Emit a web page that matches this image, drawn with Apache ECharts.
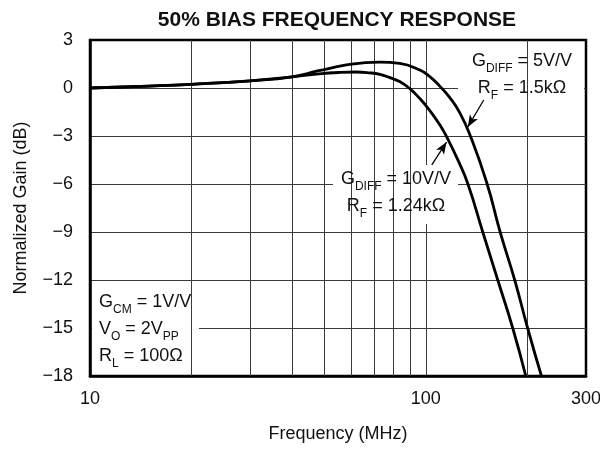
<!DOCTYPE html>
<html>
<head>
<meta charset="utf-8">
<script src="https://cdn.jsdelivr.net/npm/echarts@6/dist/echarts.min.js"></script>
<style>
  html, body { margin: 0; padding: 0; background: #fff; }
  #chart { width: 600px; height: 449px; }
</style>
</head>
<body>
<div id="chart"></div>
<script>
// Frequency (MHz) and normalized gain (dB) for the two differential gain settings
const freqG5 = [10, 15, 20, 30, 40, 48, 58, 66, 73, 83.6, 96, 102.8, 110.2, 117.9, 126.3, 135.2, 152, 166.5, 184, 201, 221];
const gainG5 = [0, 0.12, 0.23, 0.45, 0.7, 1.08, 1.44, 1.58, 1.62, 1.54, 1.12, 0.71, 0.1, -0.6, -1.55, -2.9, -5.94, -9, -12, -15, -18];

const freqG10 = [10, 15, 20, 30, 40, 48, 55, 62, 68, 73, 78.1, 83.6, 89.6, 96, 102.8, 110.2, 116.3, 124.5, 133.4, 147.8, 163.8, 181.5, 198.5];
const gainG10 = [0, 0.12, 0.23, 0.45, 0.7, 0.88, 0.97, 1.0, 0.95, 0.85, 0.65, 0.4, -0.04, -0.66, -1.41, -2.32, -3.19, -4.48, -5.98, -9, -12, -15, -18];

// Intermediate decade grid lines on the log frequency axis
const minorFreqs = [20, 30, 40, 50, 60, 70, 80, 90, 200];

// Gain axis range and step
const gainMin = -18;
const gainMax = 3;
const gainStep = 3;

// Pointer arrows: [tail, head] in (MHz, dB)
const arrowG5 = [[148.8, -0.75], [133.4, -2.44]];
const arrowG10 = [[104.2, -4.81], [115.3, -3.38]];

const FONT = '"Liberation Sans", Arial, Helvetica, sans-serif';
const INK = '#111';
const GRID_INK = '#3a3a3a';

const toPairs = (xs, ys) => xs.map((x, i) => [x, ys[i]]);

const richStyles = {
  m: { fontSize: 18, fontFamily: FONT, color: INK, lineHeight: 27 },
  s: { fontSize: 12, fontFamily: FONT, color: INK, lineHeight: 14, verticalAlign: 'bottom' }
};

function note(text, x, y, align, box) {
  return {
    type: 'group',
    z: 5,
    children: [
      { type: 'rect', z: 5, silent: true,
        shape: { x: box[0], y: box[1], width: box[2], height: box[3] },
        style: { fill: '#fff' } },
      { type: 'text', z: 6, silent: true, x: x, y: y,
        style: { text: text, rich: richStyles, align: align, verticalAlign: 'top',
                 fontSize: 18, fontFamily: FONT, fill: INK, lineHeight: 27 } }
    ]
  };
}

const chart = echarts.init(document.getElementById('chart'), null, { renderer: 'canvas' });

chart.setOption({
  animation: false,
  backgroundColor: '#fff',
  title: {
    text: '50% BIAS FREQUENCY RESPONSE',
    left: 332,
    top: 5,
    textAlign: 'center',
    textStyle: { fontFamily: FONT, fontSize: 21, fontWeight: 'bold', color: INK }
  },
  grid: {
    left: 90, right: 14, top: 40, bottom: 73,
    outerBoundsMode: 'none',
    containLabel: false,
    show: true, borderColor: '#000', borderWidth: 2.5, backgroundColor: 'transparent'
  },
  xAxis: {
    type: 'log',
    logBase: 10,
    min: 10,
    max: 300,
    name: 'Frequency (MHz)',
    nameLocation: 'middle',
    nameGap: 49,
    nameTextStyle: { fontFamily: FONT, fontSize: 18, color: INK },
    axisLine: { show: true, onZero: false, lineStyle: { color: '#000', width: 2.5 } },
    axisTick: { show: false },
    axisLabel: {
      margin: 14,
      fontFamily: FONT, fontSize: 18, color: INK,
      showMinLabel: true, showMaxLabel: true,
      formatter: v => String(Math.round(v))
    },
    splitLine: { show: true, showMinLine: false, showMaxLine: false,
                 lineStyle: { color: GRID_INK, width: 1 } },
    minorSplitLine: { show: false }
  },
  yAxis: {
    type: 'value',
    min: gainMin,
    max: gainMax,
    interval: gainStep,
    name: 'Normalized Gain (dB)',
    nameLocation: 'middle',
    nameGap: 60,
    nameTextStyle: { fontFamily: FONT, fontSize: 18, color: INK },
    axisLine: { show: true, onZero: false, lineStyle: { color: '#000', width: 2.5 } },
    axisTick: { show: false },
    axisLabel: {
      margin: 17,
      fontFamily: FONT, fontSize: 18, color: INK,
      formatter: v => (v < 0 ? '\u2212' + Math.abs(v) : String(v))
    },
    splitLine: { show: true, showMinLine: false, showMaxLine: false,
                 lineStyle: { color: GRID_INK, width: 1 } }
  },
  series: [
    {
      name: 'grid',
      type: 'line',
      data: [],
      z: 1,
      silent: true,
      markLine: {
        silent: true,
        symbol: 'none',
        label: { show: false },
        lineStyle: { color: GRID_INK, width: 1, type: 'solid' },
        data: minorFreqs.map(f => ({ xAxis: f }))
      }
    },
    {
      name: 'GDIFF = 5V/V',
      type: 'line',
      data: toPairs(freqG5, gainG5),
      smooth: 0.5,
      showSymbol: false,
      z: 10,
      lineStyle: { color: '#000', width: 2.8 }
    },
    {
      name: 'GDIFF = 10V/V',
      type: 'line',
      data: toPairs(freqG10, gainG10),
      smooth: 0.5,
      showSymbol: false,
      z: 10,
      lineStyle: { color: '#000', width: 2.8 }
    },
    {
      name: 'arrows',
      type: 'line',
      data: [],
      z: 11,
      silent: true,
      markLine: {
        silent: true,
        symbol: ['none', 'arrow'],
        symbolSize: [7, 12],
        label: { show: false },
        lineStyle: { color: '#000', width: 1.3, type: 'solid' },
        itemStyle: { color: '#000' },
        data: [
          [{ coord: arrowG5[0] }, { coord: arrowG5[1] }],
          [{ coord: arrowG10[0] }, { coord: arrowG10[1] }]
        ]
      }
    }
  ],
  graphic: [
    note('{m|G}{s|DIFF}{m| = 5V/V}\n{m|R}{s|F}{m| = 1.5k\u03A9}', 522, 48, 'center', [458, 42, 126, 66]),
    note('{m|G}{s|DIFF}{m| = 10V/V}\n{m|R}{s|F}{m| = 1.24k\u03A9}', 396, 166, 'center', [333, 165, 125, 59]),
    note('{m|G}{s|CM}{m| = 1V/V}\n{m|V}{s|O}{m| = 2V}{s|PP}\n{m|R}{s|L}{m| = 100\u03A9}', 99, 289, 'left', [92, 288, 107, 84])
  ]
});
</script>
</body>
</html>
